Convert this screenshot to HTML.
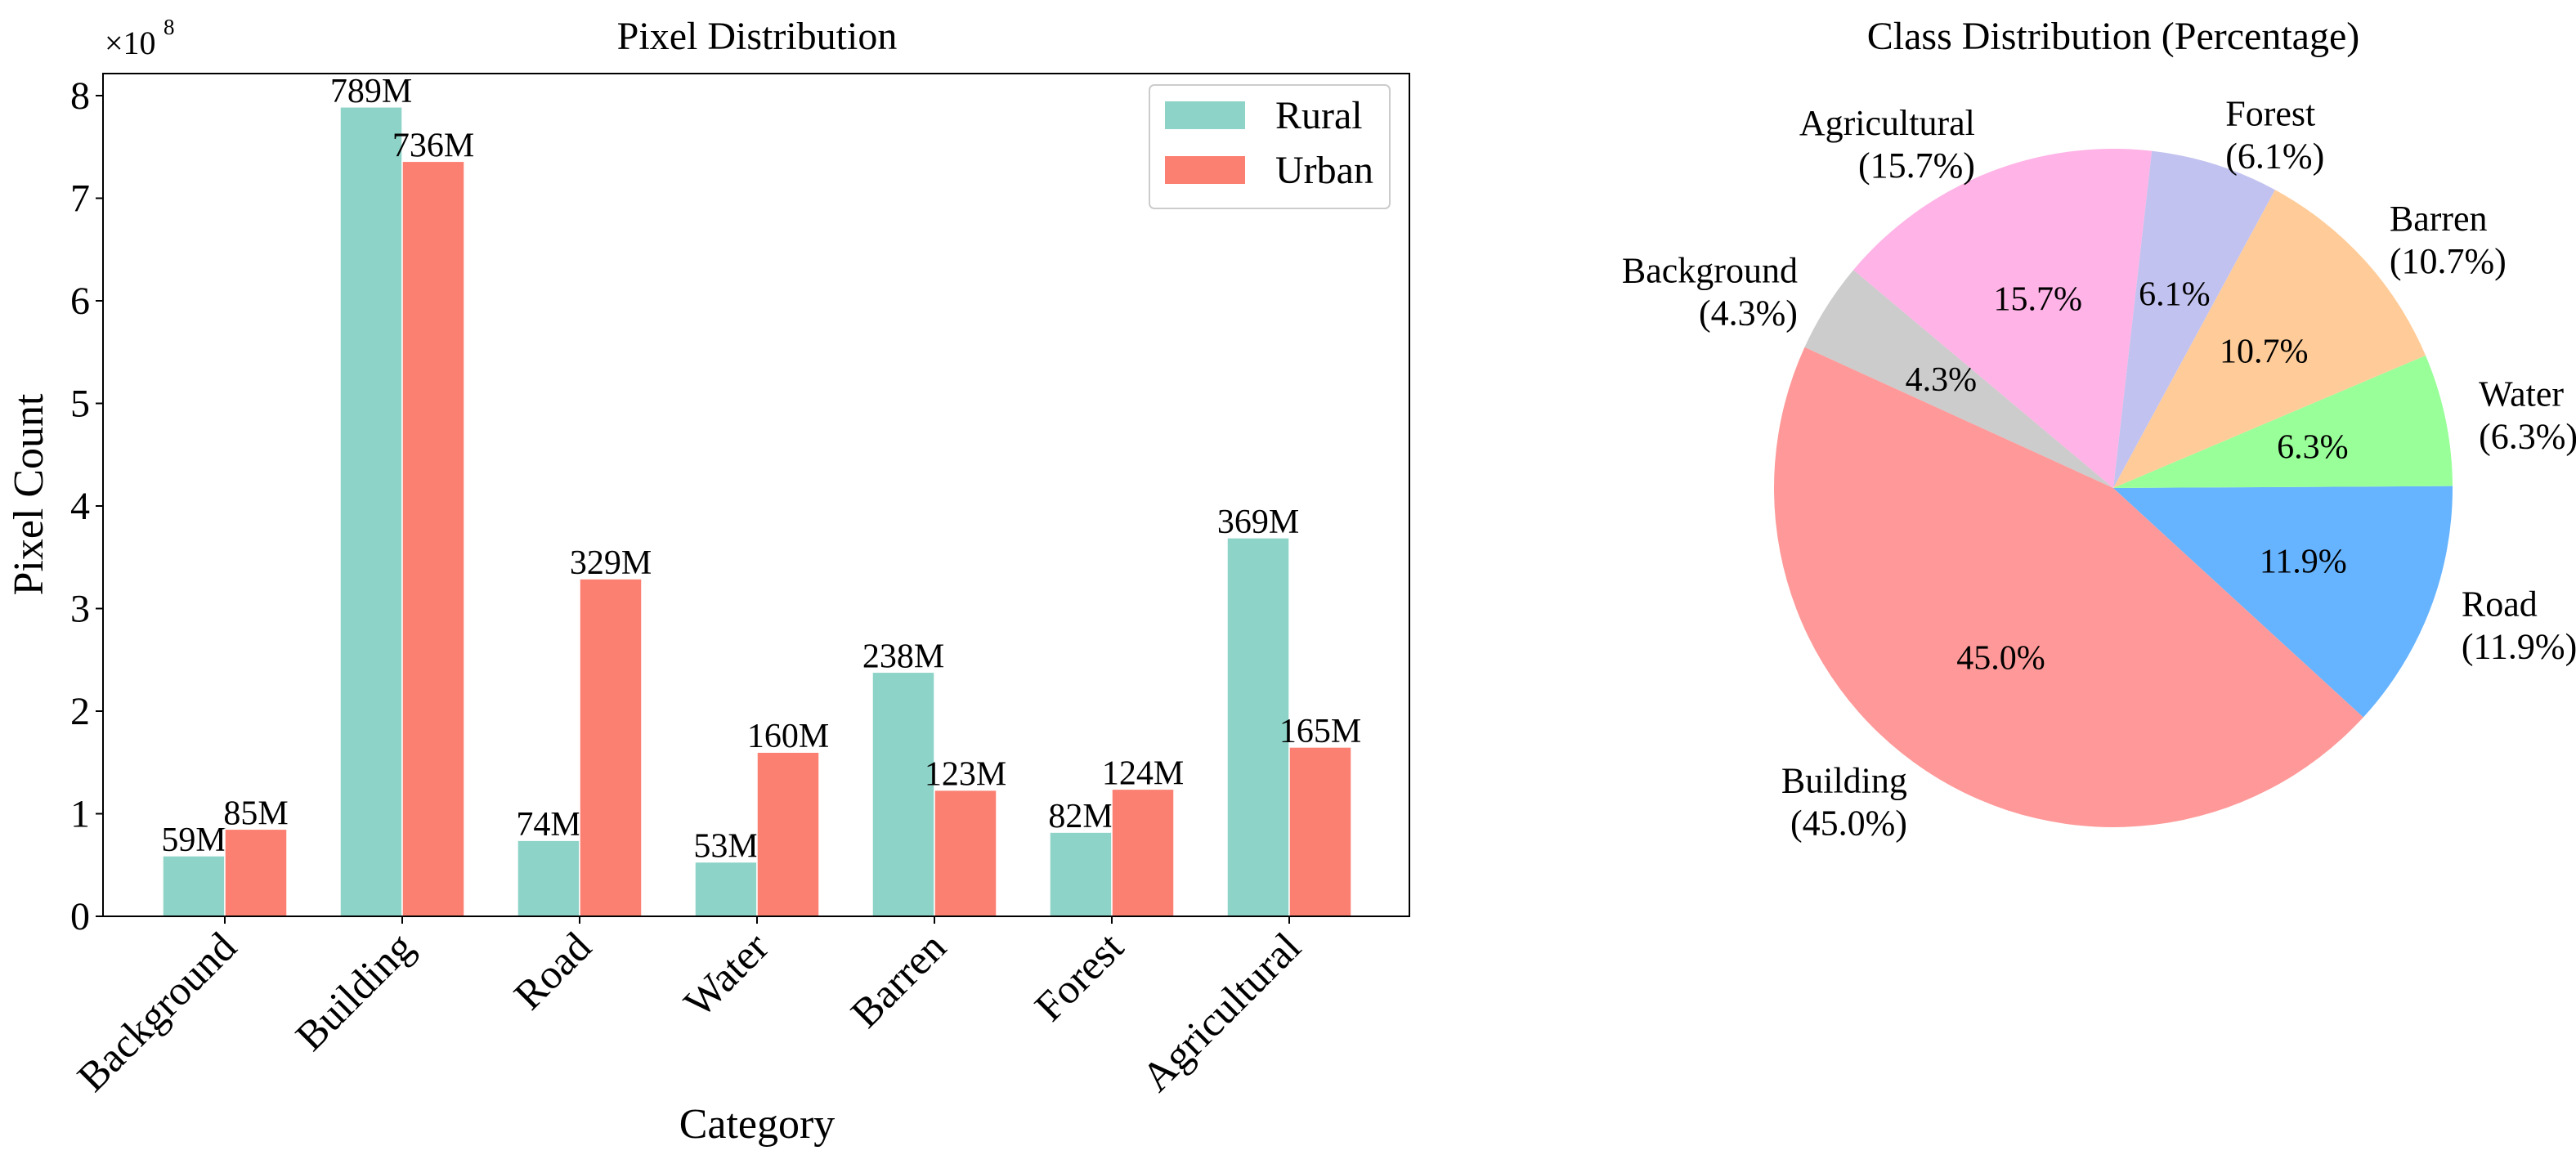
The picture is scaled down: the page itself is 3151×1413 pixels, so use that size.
<!DOCTYPE html>
<html><head><meta charset="utf-8"><style>
html,body{margin:0;padding:0;background:#fff}
svg{display:block;font-family:"Liberation Serif",serif}
</style></head><body>
<svg id="fig" width="3151" height="1413" viewBox="0 0 3151 1413">
<g id="bar"></g>
<g id="pie"></g>
</svg>
<script>
const categories=["Background","Building","Road","Water","Barren","Forest","Agricultural"];
const rural=[59,789,74,53,238,82,369];
const urban=[85,736,329,160,123,124,165];
const yTicks=[0,1,2,3,4,5,6,7,8];
const pieLabels=["Background","Building","Road","Water","Barren","Forest","Agricultural"];
const piePct=[4.3,45.0,11.9,6.3,10.7,6.1,15.7];
const pieColors=["#cccccc","#ff9999","#66b3ff","#99ff99","#ffcc99","#c2c2f0","#ffb3e6"];

const NS="http://www.w3.org/2000/svg";
function mk(parent,tag,attrs,text){const e=document.createElementNS(NS,tag);for(const k in attrs)e.setAttribute(k,attrs[k]);if(text!==undefined)e.textContent=text;parent.appendChild(e);return e;}

const B=document.getElementById('bar');
const L=126,R=1724,T=90,Y0=1121,unitPx=125.5,first=275,step=217,bw=76;
const xc=i=>first+i*step;
const ys=v=>Y0-v/100*unitPx;
const yt=t=>Y0-t*unitPx;
rural.forEach((v,i)=>{
  const r=mk(B,'rect',{x:xc(i)-bw,y:ys(v),width:bw,height:Y0-ys(v),fill:'#8dd3c7',stroke:'#fff','stroke-width':1.5});
  
  
  const t=mk(B,'text',{x:xc(i)-bw/2,y:ys(v)-6,'text-anchor':'middle','font-size':42},v+'M');
  
  
});
urban.forEach((v,i)=>{
  const r=mk(B,'rect',{x:xc(i),y:ys(v),width:bw,height:Y0-ys(v),fill:'#fb8072',stroke:'#fff','stroke-width':1.5});
  
  
  const t=mk(B,'text',{x:xc(i)+bw/2,y:ys(v)-6,'text-anchor':'middle','font-size':42},v+'M');
  
  
});
const frame=mk(B,'rect',{x:L,y:T,width:R-L,height:Y0-T,fill:'none',stroke:'#000','stroke-width':2});


yTicks.forEach(t=>{
  mk(B,'line',{x1:L-9,x2:L,y1:yt(t),y2:yt(t),stroke:'#000','stroke-width':2});
  const e=mk(B,'text',{x:L-16,y:yt(t)+16,'text-anchor':'end','font-size':48},String(t));
  
  
});
categories.forEach((c,i)=>{
  mk(B,'line',{x1:xc(i),x2:xc(i),y1:Y0,y2:Y0+9,stroke:'#000','stroke-width':2});
  const e=mk(B,'text',{transform:`translate(${xc(i)-8},${Y0+16}) rotate(-45)`,'text-anchor':'end','dominant-baseline':'hanging','font-size':51},c);
  
  
});
let e;
e=mk(B,'text',{x:926,y:60,'text-anchor':'middle','font-size':48},'Pixel Distribution');

e=mk(B,'text',{x:128,y:66,'font-size':40},'×10');

mk(B,'text',{x:200,y:42,'font-size':27},'8');
e=mk(B,'text',{transform:'translate(52,605) rotate(-90)','text-anchor':'middle','font-size':52},'Pixel Count');

e=mk(B,'text',{x:926,y:1392,'text-anchor':'middle','font-size':52},'Category');

const lg=mk(B,'g',{});

mk(lg,'rect',{x:1406,y:104,width:294,height:151,rx:6,fill:'#fff',stroke:'#ccc','stroke-width':2});
e=mk(lg,'rect',{x:1425,y:124,width:98,height:34,fill:'#8dd3c7'});

e=mk(lg,'rect',{x:1425,y:191,width:98,height:34,fill:'#fb8072'});

e=mk(lg,'text',{x:1560,y:157,'font-size':48},'Rural');

e=mk(lg,'text',{x:1560,y:224,'font-size':48},'Urban');


const P=document.getElementById('pie');
const cx=2585,cy=597,rad=415,start=140;
let a=start;
const total=piePct.reduce((s,v)=>s+v,0);
piePct.forEach((v,i)=>{
  const a0=a,a1=a+v/total*360;a=a1;
  const p=(ang,r)=>[cx+r*Math.cos(ang*Math.PI/180),cy-r*Math.sin(ang*Math.PI/180)];
  const [x0,y0]=p(a0,rad),[x1,y1]=p(a1,rad);
  const large=(a1-a0)>180?1:0;
  const s=mk(P,'path',{d:`M${cx},${cy} L${x0},${y0} A${rad},${rad} 0 ${large} 0 ${x1},${y1} Z`,fill:pieColors[i]});
  
  
  const mid=(a0+a1)/2;
  const [px,py]=p(mid,rad*0.6);
  const t=mk(P,'text',{x:px,y:py+14,'text-anchor':'middle','font-size':42},v.toFixed(1)+'%');
  
  
  const [lx,ly]=p(mid,rad*1.1);
  const anc=lx>cx?'start':'end';
  const g=mk(P,'text',{'text-anchor':anc,'font-size':44});
  
  
  mk(g,'tspan',{x:lx,y:ly-8},pieLabels[i]);
  mk(g,'tspan',{x:lx,y:ly+44},'('+v.toFixed(1)+'%)');
});
e=mk(P,'text',{x:2585,y:60,'text-anchor':'middle','font-size':48},'Class Distribution (Percentage)');

</script>
</body></html>
